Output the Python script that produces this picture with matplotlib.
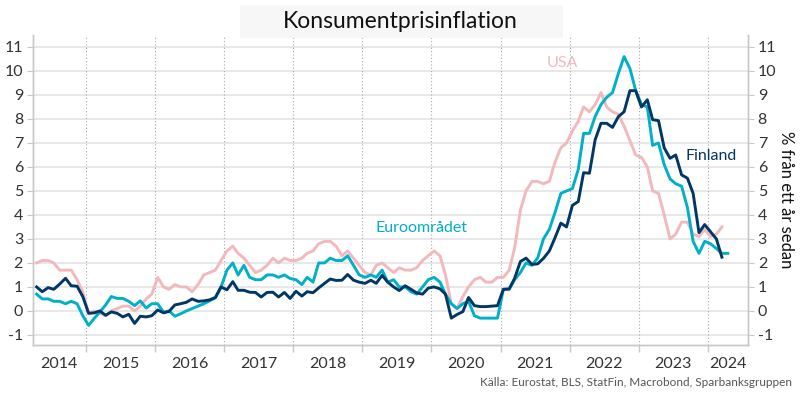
import numpy as np
import pandas as pd
import matplotlib
matplotlib.use("Agg")
import matplotlib.pyplot as plt
from matplotlib.patches import Rectangle

plt.rcParams['font.family'] = ['Lato', 'DejaVu Sans']

# Monthly observations, first month April 2014
start_month = "2014-04"

usa = [2.0, 2.1, 2.1, 2.0, 1.7, 1.7, 1.7, 1.3, 0.8,
       -0.1, 0.0, -0.1, -0.2, 0.0, 0.1, 0.2, 0.2, 0.0, 0.2, 0.5, 0.7,
       1.4, 1.0, 0.9, 1.1, 1.0, 1.0, 0.8, 1.1, 1.5, 1.6, 1.7, 2.1,
       2.5, 2.7, 2.4, 2.2, 1.9, 1.6, 1.7, 1.9, 2.2, 2.0, 2.2, 2.1,
       2.1, 2.2, 2.4, 2.5, 2.8, 2.9, 2.9, 2.7, 2.3, 2.5, 2.2, 1.9,
       1.6, 1.5, 1.9, 2.0, 1.8, 1.6, 1.8, 1.7, 1.7, 1.8, 2.1, 2.3,
       2.5, 2.3, 1.5, 0.3, 0.1, 0.6, 1.0, 1.3, 1.4, 1.2, 1.2, 1.4,
       1.4, 1.7, 2.6, 4.2, 5.0, 5.4, 5.4, 5.3, 5.4, 6.2, 6.8, 7.0,
       7.5, 7.9, 8.5, 8.3, 8.6, 9.1, 8.5, 8.3, 8.2, 7.7, 7.1, 6.5,
       6.4, 6.0, 5.0, 4.9, 4.0, 3.0, 3.2, 3.7, 3.7, 3.2, 3.1, 3.4,
       3.1, 3.2, 3.5]

euro = [0.7, 0.5, 0.5, 0.4, 0.4, 0.3, 0.4, 0.3, -0.2,
        -0.6, -0.3, -0.05, 0.25, 0.6, 0.52, 0.52, 0.4, 0.22, 0.42, 0.12, 0.3,
        0.3, -0.05, 0.0, -0.22, -0.12, 0.0, 0.1, 0.2, 0.3, 0.42, 0.55, 1.0,
        1.7, 2.0, 1.5, 1.9, 1.4, 1.3, 1.3, 1.5, 1.5, 1.4, 1.5, 1.35,
        1.3, 1.1, 1.4, 1.2, 2.0, 2.0, 2.2, 2.1, 2.1, 2.3, 1.9, 1.5,
        1.4, 1.5, 1.4, 1.7, 1.2, 1.3, 1.0, 1.0, 0.8, 0.7, 1.0, 1.3,
        1.4, 1.2, 0.7, 0.3, 0.1, 0.3, 0.4, -0.2, -0.3, -0.3, -0.3, -0.3,
        0.9, 0.9, 1.3, 1.6, 2.0, 1.9, 2.2, 3.0, 3.4, 4.1, 4.9, 5.0,
        5.1, 5.9, 7.4, 7.4, 8.1, 8.6, 8.9, 9.1, 9.9, 10.6, 10.1, 9.2,
        8.6, 8.5, 6.9, 7.0, 6.1, 5.5, 5.3, 5.2, 4.3, 2.9, 2.4, 2.9,
        2.8, 2.6, 2.4, 2.4]

finland = [1.0, 0.8, 0.97, 0.9, 1.12, 1.36, 1.05, 1.03, 0.6,
           -0.1, -0.08, 0.0, -0.18, -0.04, -0.1, -0.25, -0.14, -0.52, -0.22, -0.25, -0.2,
           0.04, -0.08, -0.02, 0.25, 0.3, 0.36, 0.5, 0.4, 0.42, 0.46, 0.56, 1.0,
           0.88, 1.22, 0.86, 0.86, 0.78, 0.77, 0.58, 0.77, 0.78, 0.58, 0.77, 0.52,
           0.82, 0.62, 0.8, 0.76, 0.96, 1.15, 1.33, 1.27, 1.28, 1.52, 1.28, 1.2,
           1.15, 1.28, 1.15, 1.48, 1.2, 1.0, 0.85, 1.05, 0.9, 0.75, 0.7, 0.95,
           1.0, 0.92, 0.7, -0.3, -0.15, -0.03, 0.56, 0.22, 0.18, 0.18, 0.2, 0.22,
           0.9, 0.92, 1.35, 2.06, 2.2, 1.94, 1.96, 2.19, 2.5, 3.05, 3.66, 3.5,
           4.4, 4.56, 5.76, 5.74, 7.13, 7.82, 7.82, 7.65, 8.1, 8.3, 9.18, 9.18,
           8.5, 8.8, 7.97, 7.93, 6.8, 6.36, 6.5, 5.67, 5.53, 4.9, 3.26, 3.6,
           3.3, 3.0, 2.24]

years = list(range(2014, 2025))
yticks = list(range(-1, 12))

c_usa = "#f2b9bd"
c_euro = "#00afc8"
c_fin = "#003764"
c_grid = "#e2e2e2"
c_axis = "#c8c8c8"
c_text = "#333333"


def mid_month_dates(n):
    return pd.date_range(start_month, periods=n, freq="MS") + pd.Timedelta(days=14)


fig = plt.figure(figsize=(8, 4), dpi=100)
ax = fig.add_axes([0.041, 0.1375, 0.894, 0.775])

x_left = pd.Timestamp("2014-03-26")
x_right = pd.Timestamp("2024-07-31")

for v in yticks:
    ax.axhline(v, color=c_grid, lw=1.1, zorder=1)
for y in years[1:]:
    ax.axvline(pd.Timestamp(f"{y}-01-01"), color="#a8a8a8", lw=0.8,
               ls=(0, (1, 2)), zorder=1)

ax.plot(mid_month_dates(len(usa)), usa, color=c_usa, lw=2.1, zorder=3)
ax.plot(mid_month_dates(len(euro)), euro, color=c_euro, lw=2.1, zorder=4)
ax.plot(mid_month_dates(len(finland)), finland, color=c_fin, lw=2.1, zorder=5)

ax.set_xlim(x_left, x_right)
ax.set_ylim(-1.42, 11.5)

# year boundaries as major ticks, labels centred in each year
bounds = [pd.Timestamp(f"{y}-01-01") for y in years[1:]]
ax.set_xticks(bounds)
ax.set_xticklabels([])
edges = [x_left] + bounds + [x_right]
centres = [a + (b - a) / 2 for a, b in zip(edges[:-1], edges[1:])]
ax.set_xticks(centres, minor=True)
ax.set_xticklabels([str(y) for y in years], minor=True)
ax.tick_params(axis="x", which="major", length=5, color=c_axis, width=1)
ax.tick_params(axis="x", which="minor", length=0, pad=9, labelsize=11.5,
               labelcolor=c_text)

ax.set_yticks(yticks)
ax.set_yticklabels([str(v) for v in yticks])
ax.tick_params(axis="y", length=4, color=c_axis, labelsize=11.5,
               labelcolor=c_text, pad=3)

ax2 = ax.twinx()
ax2.set_ylim(ax.get_ylim())
ax2.set_yticks(yticks)
ax2.set_yticklabels([str(v) for v in yticks])
ax2.tick_params(axis="y", length=4, color=c_axis, labelsize=11.5,
                labelcolor=c_text, pad=3)

for a in (ax, ax2):
    a.spines["top"].set_visible(False)
    for s in ("left", "right", "bottom"):
        a.spines[s].set_color(c_axis)
        a.spines[s].set_linewidth(1.0)

ax.text(pd.Timestamp("2021-11-25"), 10.35, "USA", color=c_usa, fontsize=11.5,
        ha="center", va="center")
ax.text(pd.Timestamp("2019-11-10"), 3.45, "Euroområdet", color=c_euro,
        fontsize=11.5, ha="center", va="center")
ax.text(pd.Timestamp("2024-01-20"), 6.45, "Finland", color=c_fin, fontsize=11.5,
        ha="center", va="center")

# light title panel
fig.patches.append(Rectangle((240 / 800, 1 - 38 / 400), 323 / 800, 33 / 400,
                             transform=fig.transFigure, facecolor="#f7f7f7",
                             edgecolor="none", zorder=0))
fig.text(0.5, 1 - 21 / 400, "Konsumentprisinflation", ha="center", va="center",
         fontsize=16.5, color="#111111")
fig.text(0.983, 0.5, "% från ett år sedan", rotation=-90, ha="center",
         va="center", fontsize=12, color="#111111",
         bbox=dict(boxstyle="square,pad=0.25", facecolor="white",
                   edgecolor="none"))
fig.text(0.99, 0.043, "Källa: Eurostat, BLS, StatFin, Macrobond, Sparbanksgruppen",
         ha="right", va="center", fontsize=8.5, color="#555555")

fig.savefig("out.png", dpi=100)
